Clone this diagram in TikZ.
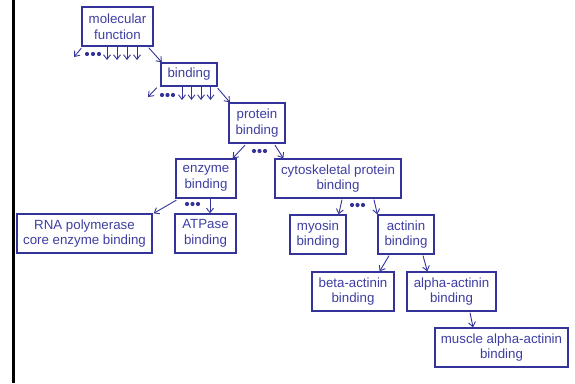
\documentclass[tikz,border=0pt]{standalone}
\usepackage{fontspec}
\setmainfont{Liberation Sans}
\usetikzlibrary{arrows.meta,calc}
\definecolor{gob}{HTML}{333399}
\definecolor{gotext}{HTML}{3E3EA2}
\tikzset{
  term/.style={draw=gob, line width=1.3pt, text=gotext, align=center, inner sep=0pt,
    font=\fontsize{13.3}{15.5}\selectfont},
  arr/.style={draw=gob, line width=0.9pt, -{Straight Barb[length=4.5pt,width=7pt,line width=0.9pt]}},
  dot/.style={fill=gob}
}
\begin{document}
\begin{tikzpicture}[x=1pt,y=-1pt]
\useasboundingbox (0,0) rectangle (575,383);
\draw[black, line width=2.6pt] (13.5,0) -- (13.5,383);

\node[term, minimum width=71, minimum height=39] (mf) at (117.5,26.5) {molecular\\function};
\node[term, minimum width=56, minimum height=23] (b) at (189,74.5) {binding};
\node[term, minimum width=56, minimum height=40] (pb) at (257,123) {protein\\binding};
\node[term, minimum width=60, minimum height=39] (eb) at (206,178.5) {enzyme\\binding};
\node[term, minimum width=126, minimum height=39] (cpb) at (338,178.5) {cytoskeletal protein\\binding};
\node[term, minimum width=135, minimum height=39] (rna) at (84.5,233.5) {RNA polymerase\\core enzyme binding};
\node[term, minimum width=61, minimum height=39] (atp) at (205.5,233.5) {ATPase\\binding};
\node[term, minimum width=56, minimum height=39] (myo) at (318,234.5) {myosin\\binding};
\node[term, minimum width=56, minimum height=39] (act) at (406,234.5) {actinin\\binding};
\node[term, minimum width=82, minimum height=39] (beta) at (353,291.5) {beta-actinin\\binding};
\node[term, minimum width=89, minimum height=39] (alpha) at (451.5,291.5) {alpha-actinin\\binding};
\node[term, minimum width=133, minimum height=39] (musc) at (501.5,347.5) {muscle alpha-actinin\\binding};

% molecular function
\coordinate (mfl) at (74,57);
\draw[arr] ($(mf.south west)+(0,1.5)$) -- (mfl);
\foreach \x in {87,93,99} \fill[dot] (\x,54) circle (2.1);
\foreach \x [count=\i] in {107,117,127,137} {
  \coordinate (mfd\i) at (\x,60);
  \draw[arr] (\x,46) -- (mfd\i);
}
\draw[arr] ($(mf.south east)+(-5,1)$) -- ($(b.north west)+(1.5,0)$);

% binding
\coordinate (bl) at (148,97);
\draw[arr] ($(b.south west)+(-3.5,1)$) -- (bl);
\foreach \x in {162,167.5,173} \fill[dot] (\x,95) circle (2.1);
\foreach \x [count=\i] in {182,191.5,201,210.5} {
  \coordinate (bd\i) at (\x,100);
  \draw[arr] (\x,86) -- (bd\i);
}
\draw[arr] ($(b.south east)+(0,1.5)$) -- ($(pb.north west)+(1.5,0)$);

% protein binding
\draw[arr] ($(pb.south)+(-12,1.5)$) -- ($(eb.north east)+(-4,0)$);
\foreach \x in {254,259.5,265} \fill[dot] (\x,151) circle (2.1);
\draw[arr] ($(pb.south)+(18,1.5)$) -- ($(cpb.north west)+(9,0)$);

% enzyme binding
\draw[arr] ($(eb.south west)+(1,1.5)$) -- ($(rna.north east)+(1,0)$);
\foreach \x in {187,192.5,198} \fill[dot] (\x,204) circle (2.1);
\draw[arr] ($(eb.south)+(4,0)$) -- ($(atp.north)+(4.5,0)$);

% cytoskeletal protein binding
\draw[arr] ($(cpb.south)+(4,1)$) -- ($(myo.north east)+(-8,0)$);
\foreach \x in {352,357.5,363} \fill[dot] (\x,205) circle (2.1);
\draw[arr] ($(cpb.south)+(36,1)$) -- ($(act.north west)+(0,0)$);

% actinin binding
\draw[arr] ($(act.south)+(-17,1)$) -- ($(beta.north east)+(-15,0)$);
\draw[arr] ($(act.south)+(17,1)$) -- ($(alpha.north west)+(21,0)$);

% alpha-actinin binding
\draw[arr] ($(alpha.south)+(18.5,1)$) -- ($(musc.north)+(-28.5,0)$);
\end{tikzpicture}
\end{document}
